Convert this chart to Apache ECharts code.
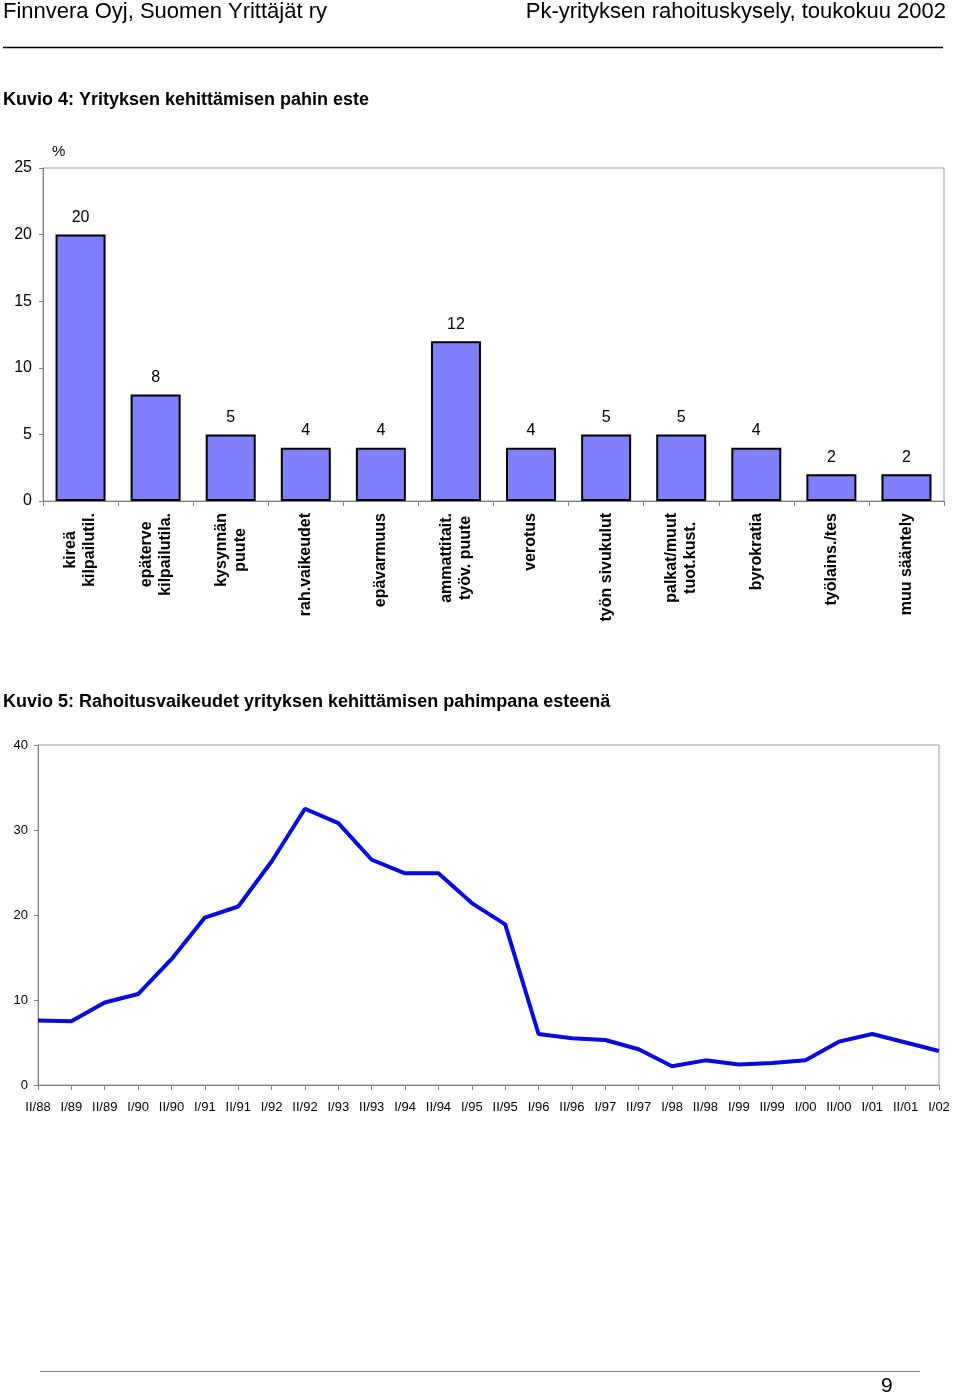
<!DOCTYPE html>
<html>
<head>
<meta charset="utf-8">
<script src="https://cdn.jsdelivr.net/npm/echarts@6/dist/echarts.min.js"></script>
<style>
html,body{margin:0;padding:0;background:#fff;}
#chart{width:960px;height:1397px;}
</style>
</head>
<body>
<div id="chart"></div>
<script>
// Kuvio 4 data
const barCategories = [
  'kireä\nkilpailutil.',
  'epäterve\nkilpailutila.',
  'kysynnän\npuute',
  'rah.vaikeudet',
  'epävarmuus',
  'ammattitait.\ntyöv. puute',
  'verotus',
  'työn sivukulut',
  'palkat/muut\ntuot.kust.',
  'byrokratia',
  'työlains./tes',
  'muu sääntely'
];
const barValues = [20, 8, 5, 4, 4, 12, 4, 5, 5, 4, 2, 2];
const barTicks = [0, 5, 10, 15, 20, 25];

// Kuvio 5 data
const lineCategories = [
  'II/88','I/89','II/89','I/90','II/90','I/91','II/91','I/92','II/92','I/93',
  'II/93','I/94','II/94','I/95','II/95','I/96','II/96','I/97','II/97','I/98',
  'II/98','I/99','II/99','I/00','II/00','I/01','II/01','I/02'
];
const lineValues = [
  7.6, 7.5, 9.7, 10.7, 14.8, 19.7, 21.0, 26.3, 32.5, 30.8,
  26.5, 24.9, 24.9, 21.4, 18.9, 6.0, 5.5, 5.3, 4.2, 2.2,
  2.9, 2.4, 2.6, 2.9, 5.1, 6.0, 5.0, 4.0
];
const lineTicks = [0, 10, 20, 30, 40];

const FONT = '"Liberation Sans", Arial, sans-serif';
const chart = echarts.init(document.getElementById('chart'), null, {renderer: 'canvas'});

chart.setOption({
  animation: false,
  backgroundColor: '#ffffff',
  textStyle: {fontFamily: FONT, color: '#000'},
  graphic: [
    {type: 'text', left: 3, top: 1, style: {text: 'Finnvera Oyj, Suomen Yrittäjät ry', font: '22px ' + FONT, fill: '#000'}},
    {type: 'text', right: 14, top: 1, style: {text: 'Pk-yrityksen rahoituskysely, toukokuu 2002', font: '22px ' + FONT, fill: '#000'}},
    {type: 'line', shape: {x1: 3, y1: 47.5, x2: 943, y2: 47.5}, style: {stroke: '#000', lineWidth: 1.5}},
    {type: 'text', left: 3, top: 91, style: {text: 'Kuvio 4: Yrityksen kehittämisen pahin este', font: 'bold 18px ' + FONT, fill: '#000'}},
    {type: 'text', left: 52, top: 144, style: {text: '%', font: '15px ' + FONT, fill: '#000'}},
    {type: 'text', left: 3, top: 693, style: {text: 'Kuvio 5: Rahoitusvaikeudet yrityksen kehittämisen pahimpana esteenä', font: 'bold 18px ' + FONT, fill: '#000'}},
    {type: 'line', shape: {x1: 40, y1: 1371.5, x2: 920, y2: 1371.5}, style: {stroke: '#888', lineWidth: 1}},
    {type: 'text', left: 881, top: 1376, style: {text: '9', font: '21px ' + FONT, fill: '#000'}}
  ],
  grid: [
    {left: 43, top: 168, width: 901, height: 333, show: true, borderColor: '#a0a0a0', borderWidth: 1},
    {left: 38, top: 745, width: 901, height: 340, show: true, borderColor: '#a0a0a0', borderWidth: 1}
  ],
  xAxis: [
    {
      gridIndex: 0, type: 'category', data: barCategories,
      axisLine: {lineStyle: {color: '#808080'}},
      axisTick: {show: true, length: 5, lineStyle: {color: '#808080'}},
      axisLabel: {
        rotate: 90, interval: 0, margin: 12, color: '#000',
        formatter: function (v) { return v.split('\n').map(function (s) { return '{c|' + s + '}'; }).join('\n'); },
        rich: {c: {align: 'center', fontFamily: FONT, fontWeight: 'bold', fontSize: 16, lineHeight: 19, color: '#000'}}
      }
    },
    {
      gridIndex: 1, type: 'category', data: lineCategories, boundaryGap: false,
      axisLine: {lineStyle: {color: '#808080'}},
      axisTick: {show: true, length: 5, interval: 0, lineStyle: {color: '#808080'}},
      axisLabel: {interval: 0, margin: 16, fontSize: 13, color: '#000', fontFamily: FONT}
    }
  ],
  yAxis: [
    {
      gridIndex: 0, type: 'value', min: 0, max: 25, interval: 5,
      axisLine: {show: true, lineStyle: {color: '#808080'}},
      axisTick: {show: true, length: 4, lineStyle: {color: '#808080'}},
      splitLine: {show: false},
      axisLabel: {fontSize: 16, color: '#000', margin: 11, fontFamily: FONT,
        customValues: barTicks}
    },
    {
      gridIndex: 1, type: 'value', min: 0, max: 40, interval: 10,
      axisLine: {show: true, lineStyle: {color: '#808080'}},
      axisTick: {show: true, length: 4, lineStyle: {color: '#808080'}},
      splitLine: {show: false},
      axisLabel: {fontSize: 13, color: '#000', margin: 10, fontFamily: FONT,
        customValues: lineTicks}
    }
  ],
  series: [
    {
      type: 'bar', xAxisIndex: 0, yAxisIndex: 0, data: barValues, barWidth: 50,
      itemStyle: {color: '#8080ff', borderColor: '#000', borderWidth: 2},
      label: {show: true, position: 'top', distance: 9, fontSize: 16, color: '#000', fontFamily: FONT}
    },
    {
      type: 'line', xAxisIndex: 1, yAxisIndex: 1, data: lineValues,
      showSymbol: false, symbol: 'none',
      lineStyle: {color: '#0808e0', width: 4}
    }
  ]
});
</script>
</body>
</html>
